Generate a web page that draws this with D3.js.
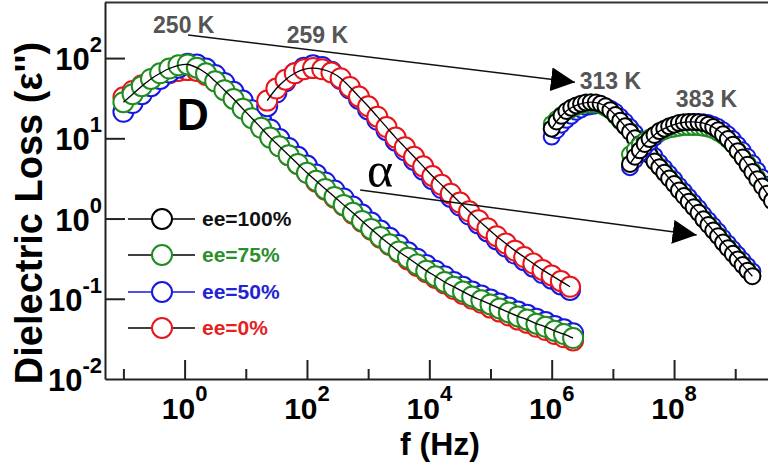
<!DOCTYPE html>
<html>
<head>
<meta charset="utf-8">
<script src="https://cdn.jsdelivr.net/npm/d3@7"></script>
<style>
  body { margin: 0; background: #fff; }
  svg { display: block; }
  text { font-family: "Liberation Sans", Arial, sans-serif; }
</style>
</head>
<body>
<div class="chartWrap"></div>
<script>
var width = 768,
  height = 463,
  plotLeft = 105,
  plotRight = 778,
  plotTop = 2,
  plotBottom = 379;

// axis ticks
var xMajorTicks = [1, 1e2, 1e4, 1e6, 1e8],
  xMinorTicks = [1e-1, 1e1, 1e3, 1e5, 1e7, 1e9],
  yTicks = [1e-2, 1e-1, 1, 10, 100];

// legend / series
var eeLabels = ['ee=100%', 'ee=75%', 'ee=50%', 'ee=0%'],
  eeColors = ['#000000', '#1f8c1f', '#1717e3', '#e8161c'],
  eeTextColors = ['#111111', '#2b8f2b', '#2323d6', '#e42222'],
  eeLineColors = ['#000000', '#000000', '#1717e3', '#000000'];

// log10 of frequency (Hz) for each sweep
var logF250 = [-1.00, -0.85, -0.70, -0.55, -0.40, -0.25, -0.10, 0.05, 0.20, 0.35, 0.50, 0.65, 0.80, 0.95, 1.10, 1.25, 1.40, 1.55, 1.70, 1.85, 2.00, 2.15, 2.30, 2.45, 2.60, 2.75, 2.90, 3.05, 3.20, 3.35, 3.50, 3.65, 3.80, 3.95, 4.10, 4.25, 4.40, 4.55, 4.70, 4.85, 5.00, 5.15, 5.30, 5.45, 5.60, 5.75, 5.90, 6.05, 6.20, 6.35];
var logF259 = [1.35, 1.50, 1.65, 1.80, 1.95, 2.10, 2.25, 2.40, 2.55, 2.70, 2.85, 3.00, 3.15, 3.30, 3.45, 3.60, 3.75, 3.90, 4.05, 4.20, 4.35, 4.50, 4.65, 4.80, 4.95, 5.10, 5.25, 5.40, 5.55, 5.70, 5.85, 6.00, 6.15, 6.30];
var logF313 = [6.00, 6.08, 6.16, 6.24, 6.32, 6.40, 6.48, 6.56, 6.64, 6.72, 6.80, 6.88, 6.96, 7.04, 7.12, 7.20, 7.28, 7.36, 7.44, 7.52, 7.60, 7.68, 7.76, 7.84, 7.92, 8.00, 8.08, 8.16, 8.24, 8.32, 8.40, 8.48, 8.56, 8.64, 8.72, 8.80, 8.88, 8.96, 9.04, 9.12, 9.20, 9.28];
var logF383 = [7.28, 7.36, 7.44, 7.52, 7.60, 7.68, 7.76, 7.84, 7.92, 8.00, 8.08, 8.16, 8.24, 8.32, 8.40, 8.48, 8.56, 8.64, 8.72, 8.80, 8.88, 8.96, 9.04, 9.12, 9.20, 9.28, 9.36, 9.44, 9.52, 9.60];

// dielectric loss e''
var loss250Red = [32.4, 38.9, 45.7, 52.5, 58.9, 64.6, 69.2, 70.8, 69.2, 61.7, 51.3, 40.7, 31.6, 24.0, 18.2, 13.8, 10.5, 7.94, 6.17, 4.79, 3.72, 2.88, 2.29, 1.82, 1.45, 1.15, 0.912, 0.724, 0.575, 0.468, 0.380, 0.309, 0.257, 0.214, 0.182, 0.155, 0.132, 0.115, 0.100, 0.0891, 0.0776, 0.0692, 0.0617, 0.0550, 0.0501, 0.0447, 0.0407, 0.0363, 0.0331, 0.0302];
var loss250Blue = [21.4, 27.5, 35.5, 44.7, 55.0, 66.1, 75.9, 85.1, 83.2, 74.1, 61.7, 49.0, 38.0, 29.5, 22.4, 17.0, 12.9, 9.77, 7.59, 5.89, 4.57, 3.55, 2.82, 2.24, 1.78, 1.41, 1.12, 0.891, 0.708, 0.575, 0.468, 0.380, 0.316, 0.263, 0.224, 0.191, 0.162, 0.141, 0.123, 0.110, 0.0977, 0.0871, 0.0776, 0.0692, 0.0631, 0.0562, 0.0513, 0.0457, 0.0417, 0.0372];
var loss250Green = [28.2, 35.5, 44.7, 55.0, 64.6, 74.1, 81.3, 83.2, 75.9, 64.6, 51.3, 39.8, 30.9, 23.4, 17.8, 13.5, 10.2, 7.94, 6.17, 4.79, 3.72, 2.95, 2.34, 1.86, 1.48, 1.18, 0.933, 0.741, 0.589, 0.479, 0.389, 0.324, 0.269, 0.224, 0.191, 0.162, 0.141, 0.123, 0.107, 0.0955, 0.0851, 0.0759, 0.0676, 0.0603, 0.0550, 0.0490, 0.0447, 0.0398, 0.0363, 0.0324];

var loss259Blue = [25.1, 37.2, 51.3, 64.6, 75.9, 81.3, 77.6, 67.6, 55.0, 41.7, 30.9, 22.9, 17.0, 12.6, 9.33, 7.08, 5.37, 4.07, 3.09, 2.40, 1.86, 1.45, 1.12, 0.871, 0.692, 0.550, 0.447, 0.363, 0.302, 0.251, 0.209, 0.178, 0.151, 0.129];
var loss259Red = [29.5, 41.7, 53.7, 64.6, 72.4, 75.0, 72.4, 66.1, 56.2, 43.7, 33.1, 25.1, 18.6, 13.8, 10.2, 7.76, 5.89, 4.47, 3.39, 2.63, 2.04, 1.58, 1.23, 0.955, 0.759, 0.603, 0.490, 0.398, 0.331, 0.275, 0.229, 0.195, 0.166, 0.141];

var loss313Blue = [10.5, 12.6, 14.8, 17.0, 19.1, 21.4, 22.9, 24.5, 25.1, 25.7, 25.7, 25.1, 23.4, 21.4, 18.6, 16.2, 13.8, 11.7, 9.77, 8.32, 7.08, 6.03, 5.01, 4.27, 3.63, 3.09, 2.57, 2.19, 1.86, 1.58, 1.35, 1.12, 0.955, 0.813, 0.692, 0.575, 0.490, 0.417, 0.355, 0.302, 0.257, 0.219];
var loss313Green = [15.1, 17.4, 19.5, 21.4, 22.9, 24.5, 25.7, 26.3, 26.3, 26.3, 25.7, 24.0, 21.9, 19.1, 16.2, 14.1, 12.3, 10.2, 8.71, 7.41, 6.31, 5.25, 4.47, 3.80, 3.24, 2.75, 2.29, 1.95, 1.66, 1.41, 1.20, 1.00, 0.851, 0.724, 0.617, 0.513, 0.437, 0.372, 0.316, 0.269, 0.229, 0.195];
var loss313Black = [13.2, 16.2, 19.1, 21.9, 24.0, 25.7, 26.9, 27.9, 28.2, 27.9, 26.9, 25.1, 22.4, 19.5, 16.6, 14.1, 12.0, 10.0, 8.51, 7.24, 6.17, 5.13, 4.37, 3.72, 3.16, 2.69, 2.24, 1.91, 1.62, 1.38, 1.18, 0.977, 0.832, 0.708, 0.603, 0.501, 0.427, 0.363, 0.309, 0.263, 0.224, 0.191];

var loss383Blue = [4.37, 5.37, 6.46, 7.76, 8.91, 10.2, 11.5, 12.6, 13.5, 14.5, 15.1, 15.5, 15.8, 16.0, 16.0, 15.8, 15.5, 14.8, 13.8, 12.6, 11.2, 9.77, 8.32, 7.08, 5.89, 4.90, 3.98, 3.24, 2.63, 2.14];
var loss383Green = [6.31, 7.24, 8.32, 9.33, 10.2, 11.0, 11.7, 12.3, 12.9, 13.2, 13.5, 13.8, 13.8, 13.8, 13.8, 13.5, 13.2, 12.6, 11.7, 10.7, 9.55, 8.32, 7.08, 5.89, 4.90, 3.98, 3.24, 2.63, 2.14, 1.74];
var loss383Black = [4.79, 5.89, 7.08, 8.51, 9.77, 11.0, 12.3, 13.2, 14.1, 14.8, 15.5, 15.8, 16.0, 16.0, 15.8, 15.5, 14.8, 13.8, 12.6, 11.2, 9.77, 8.32, 6.92, 5.75, 4.68, 3.80, 3.09, 2.51, 2.04, 1.66];

// sweeps, series listed bottom to top (index into ee arrays)
var sweeps = [
  {logF: logF250, r: 10, series: [[3, loss250Red], [2, loss250Blue], [1, loss250Green]]},
  {logF: logF259, r: 10, series: [[2, loss259Blue], [3, loss259Red]]},
  {logF: logF313, r: 8, series: [[2, loss313Blue], [1, loss313Green], [0, loss313Black]]},
  {logF: logF383, r: 8, series: [[2, loss383Blue], [1, loss383Green], [0, loss383Black]]}
];

// annotations in data units (Hz, e'')
var tempLabels = [
  {text: '250 K', f: 0.305, loss: 206},
  {text: '259 K', f: 46.8, loss: 155},
  {text: '313 K', f: 2.88e6, loss: 41.2},
  {text: '383 K', f: 1.07e8, loss: 24.5}
];
var arrows = [
  {f1: 1.14, v1: 194, f2: 2.4e6, v2: 50},
  {f1: 741, v1: 2.27, f2: 2.34e8, v2: 0.624}
];

var svg = d3.select('.chartWrap')
  .append('svg')
  .attr('width', width)
  .attr('height', height);

var x = d3.scaleLog().domain([0.05, 5e9]).range([plotLeft, plotRight]);
var y = d3.scaleLog().domain([0.01, 500]).range([plotBottom, plotTop]);

// arrow head
svg.append('defs').append('marker')
  .attr('id', 'head')
  .attr('markerUnits', 'userSpaceOnUse')
  .attr('markerWidth', 26)
  .attr('markerHeight', 26)
  .attr('refX', 24)
  .attr('refY', 12)
  .attr('orient', 'auto')
  .append('path')
  .attr('d', 'M0,0L24,12L0,24Z')
  .style('fill', '#000');

// data
var fitLine = d3.line()
  .x(function(d){ return x(d.f); })
  .y(function(d){ return y(d.v); })
  .curve(d3.curveCatmullRom);

sweeps.forEach(function(sw){
  var g = svg.append('g').attr('class', 'sweep');
  var topPts;
  sw.series.forEach(function(s){
    var pts = sw.logF.map(function(lf, i){ return {f: Math.pow(10, lf), v: s[1][i]}; });
    topPts = pts;
    g.selectAll(null)
      .data(pts)
      .enter()
      .append('circle')
      .attr('cx', function(d){ return x(d.f); })
      .attr('cy', function(d){ return y(d.v); })
      .attr('r', sw.r)
      .style('fill', '#fff')
      .style('stroke', eeColors[s[0]])
      .style('stroke-width', 2);
  });
  g.append('path')
    .attr('d', fitLine(topPts))
    .style('fill', 'none')
    .style('stroke', '#000')
    .style('stroke-width', 1.3);
});

// axes
var xAxis = d3.axisBottom(x).tickValues(xMajorTicks).tickSize(-19).tickSizeOuter(0).tickFormat('');
var xMinor = d3.axisBottom(x).tickValues(xMinorTicks).tickSize(-10).tickSizeOuter(0).tickFormat('');
var yAxis = d3.axisLeft(y).tickValues(yTicks.slice(1)).tickSize(-20).tickSizeOuter(0).tickFormat('');

svg.append('g').attr('transform', 'translate(0,' + plotBottom + ')').attr('color', '#222').call(xAxis)
  .selectAll('path,line').attr('stroke-width', 2);
svg.append('g').attr('transform', 'translate(0,' + plotBottom + ')').attr('color', '#222').call(xMinor)
  .call(function(g){ g.select('.domain').remove(); })
  .selectAll('line').attr('stroke-width', 2);
svg.append('g').attr('transform', 'translate(' + plotLeft + ',0)').attr('color', '#222').call(yAxis)
  .selectAll('path,line').attr('stroke-width', 2);

svg.append('line')
  .attr('x1', plotLeft).attr('x2', plotRight)
  .attr('y1', plotTop + 0.5).attr('y2', plotTop + 0.5)
  .style('stroke', '#333').style('stroke-width', 2);

// tick labels 10^n
function powerLabel(sel){
  sel.append('tspan').text('10');
  sel.append('tspan')
    .attr('dy', -18)
    .style('font-size', '22px')
    .text(function(d){ return Math.round(Math.log10(d)); });
}

svg.selectAll('.xLabel')
  .data(xMajorTicks)
  .enter()
  .append('text')
  .attr('class', 'xLabel')
  .attr('x', function(d){ return x(d); })
  .attr('y', 419)
  .attr('text-anchor', 'middle')
  .style('font-size', '30px')
  .style('font-weight', 'bold')
  .call(powerLabel);

svg.selectAll('.yLabel')
  .data(yTicks)
  .enter()
  .append('text')
  .attr('class', 'yLabel')
  .attr('x', plotLeft - 3)
  .attr('y', function(d){ return y(d) + 12; })
  .attr('text-anchor', 'end')
  .style('font-size', '31px')
  .style('font-weight', 'bold')
  .call(powerLabel);

// axis titles
svg.append('text')
  .attr('x', 440)
  .attr('y', 455)
  .attr('text-anchor', 'middle')
  .style('font-size', '32px')
  .style('font-weight', 'bold')
  .text('f (Hz)');

svg.append('text')
  .attr('transform', 'translate(42,213) rotate(-90)')
  .attr('text-anchor', 'middle')
  .style('font-size', '38px')
  .style('font-weight', 'bold')
  .text("Dielectric Loss (\u03b5'')");

// legend
var legendRows = [219, 255, 292, 328];
var legend = svg.selectAll('.legendItem')
  .data(eeLabels)
  .enter()
  .append('g')
  .attr('class', 'legendItem')
  .attr('transform', function(d, i){ return 'translate(0,' + legendRows[i] + ')'; });

legend.append('line')
  .attr('x1', 128).attr('x2', 195)
  .style('stroke', function(d, i){ return eeLineColors[i]; })
  .style('stroke-width', 1.5);
legend.append('circle')
  .attr('cx', 162).attr('r', 10)
  .style('fill', '#fff')
  .style('stroke', function(d, i){ return eeColors[i]; })
  .style('stroke-width', 2);
legend.append('text')
  .attr('x', 202).attr('y', 7)
  .style('font-size', '21px')
  .style('font-weight', 'bold')
  .style('fill', function(d, i){ return eeTextColors[i]; })
  .text(function(d){ return d; });

// temperature arrows and labels
svg.selectAll('.tArrow')
  .data(arrows)
  .enter()
  .append('line')
  .attr('class', 'tArrow')
  .attr('x1', function(d){ return x(d.f1); })
  .attr('y1', function(d){ return y(d.v1); })
  .attr('x2', function(d){ return x(d.f2); })
  .attr('y2', function(d){ return y(d.v2); })
  .attr('marker-end', 'url(#head)')
  .style('stroke', '#111')
  .style('stroke-width', 1.4);

svg.selectAll('.tempLabel')
  .data(tempLabels)
  .enter()
  .append('text')
  .attr('class', 'tempLabel')
  .attr('x', function(d){ return x(d.f); })
  .attr('y', function(d){ return y(d.loss); })
  .style('font-size', '23px')
  .style('font-weight', 'bold')
  .style('fill', '#555')
  .text(function(d){ return d.text; });

svg.append('text')
  .attr('x', x(955))
  .attr('y', y(2.47))
  .style('font-family', '"Liberation Serif", "DejaVu Serif", serif')
  .style('font-size', '50px')
  .text('\u03b1');

svg.append('text')
  .attr('x', x(0.75))
  .attr('y', y(12.7))
  .style('font-size', '44px')
  .style('font-weight', 'bold')
  .text('D');
</script>
</body>
</html>
